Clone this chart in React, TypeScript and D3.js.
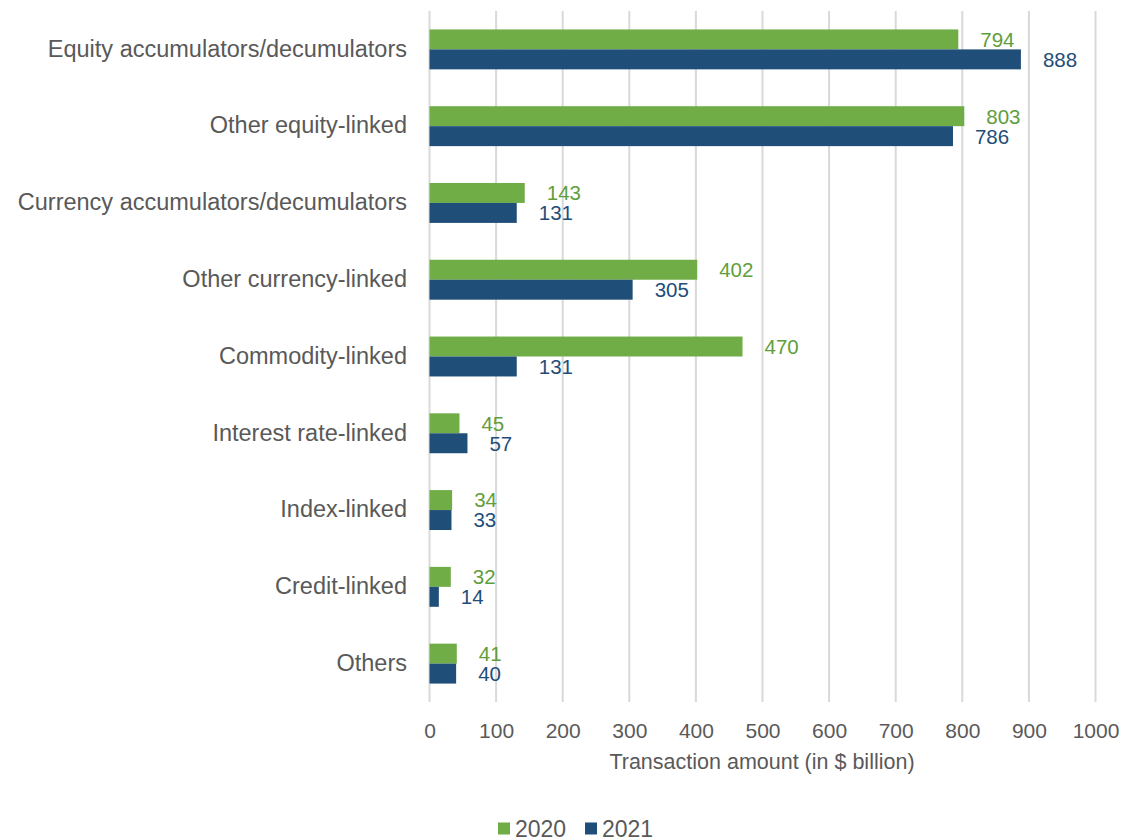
import React, { useEffect, useRef } from 'react';
import * as d3 from 'd3';

const categories = [
  'Equity accumulators/decumulators',
  'Other equity-linked',
  'Currency accumulators/decumulators',
  'Other currency-linked',
  'Commodity-linked',
  'Interest rate-linked',
  'Index-linked',
  'Credit-linked',
  'Others',
];
const years = ['2020', '2021'];
const values2020 = [794, 803, 143, 402, 470, 45, 34, 32, 41];
const values2021 = [888, 786, 131, 305, 131, 57, 33, 14, 40];
const xTicks = [0, 100, 200, 300, 400, 500, 600, 700, 800, 900, 1000];

const barColors = ['#70AD47', '#1F4E79'];
const labelColors = ['#5F9E3C', '#1F4E79'];
const FONT = 'Arial, "Liberation Sans", sans-serif';

export default function App() {
  const ref = useRef<SVGSVGElement>(null);

  useEffect(() => {
    document.body.style.margin = '0';
    const W = 1124, H = 838;
    const svg = d3.select(ref.current).attr('width', W).attr('height', H);
    svg.selectAll('*').remove();

    const x = d3.scaleLinear().domain([0, 1000]).range([429.5, 1095.5]);
    const y0 = d3.scaleBand().domain(categories).range([11, 702]).paddingInner(0.48).paddingOuter(0.24);
    const y1 = d3.scaleBand().domain(years).range([0, y0.bandwidth()]);

    const rows = categories.map((c, i) => ({ cat: c, vals: [values2020[i], values2021[i]] }));

    // gridlines
    svg.append('g').selectAll('line').data(xTicks).join('line')
      .attr('x1', d => x(d)).attr('x2', d => x(d))
      .attr('y1', 11).attr('y2', 702)
      .attr('stroke', '#d9d9d9').attr('stroke-width', 2);

    // bars
    const groups = svg.append('g').selectAll('g').data(rows).join('g')
      .attr('transform', d => `translate(0, ${y0(d.cat)})`);

    groups.selectAll('rect').data(d => d.vals.map((v, j) => ({ v, j }))).join('rect')
      .attr('x', x(0))
      .attr('y', d => y1(years[d.j])!)
      .attr('width', d => x(d.v) - x(0))
      .attr('height', y1.bandwidth())
      .attr('fill', d => barColors[d.j]);

    groups.selectAll('text').data(d => d.vals.map((v, j) => ({ v, j }))).join('text')
      .attr('x', d => x(d.v) + 22)
      .attr('y', d => y1(years[d.j])! + y1.bandwidth() / 2)
      .attr('dy', '0.36em')
      .attr('font-family', FONT).attr('font-size', 20.5)
      .attr('fill', d => labelColors[d.j])
      .text(d => d.v);

    // category labels
    svg.append('g').selectAll('text').data(categories).join('text')
      .attr('x', 407)
      .attr('y', d => y0(d)! + y0.bandwidth() / 2)
      .attr('dy', '0.31em')
      .attr('text-anchor', 'end')
      .attr('font-family', FONT).attr('font-size', 23.5)
      .attr('fill', '#595959')
      .text(d => d);

    // x axis
    const ax = svg.append('g').attr('transform', 'translate(0, 737.5)')
      .call(d3.axisBottom(x).tickValues(xTicks).tickFormat(d3.format('d')).tickSize(0).tickPadding(0));
    ax.select('.domain').remove();
    ax.selectAll('text')
      .attr('dy', 0)
      .attr('font-family', FONT).attr('font-size', 21)
      .attr('fill', '#595959');

    svg.append('text')
      .attr('x', 762).attr('y', 769)
      .attr('text-anchor', 'middle')
      .attr('font-family', FONT).attr('font-size', 21.5)
      .attr('fill', '#595959')
      .text('Transaction amount (in $ billion)');

    // legend
    const legendX = [498, 585];
    const lg = svg.append('g').selectAll('g').data(years).join('g')
      .attr('transform', (d, i) => `translate(${legendX[i]}, 822.5)`);
    lg.append('rect').attr('width', 12).attr('height', 12)
      .attr('fill', (d, i) => barColors[i]);
    lg.append('text').attr('x', 17).attr('y', 14.5)
      .attr('font-family', FONT).attr('font-size', 23)
      .attr('fill', '#595959')
      .text(d => d);
  }, []);

  return <svg ref={ref} style={{ display: 'block' }}></svg>;
}
